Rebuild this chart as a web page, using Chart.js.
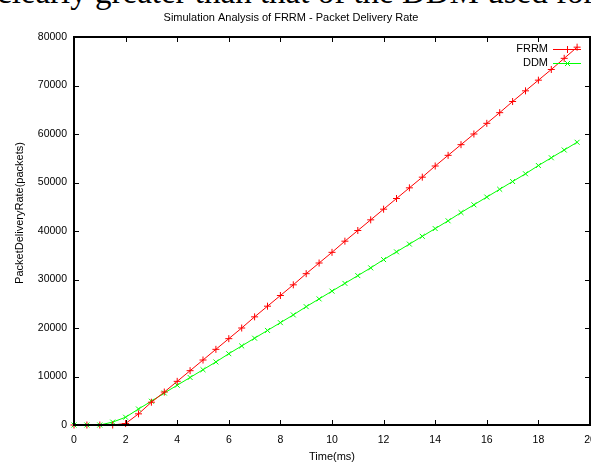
<!DOCTYPE html>
<html>
<head>
<meta charset="utf-8">
<script src="https://cdn.jsdelivr.net/npm/chart.js@4.4.1/dist/chart.umd.min.js"></script>
<style>
  html, body { margin: 0; padding: 0; background: #fff; overflow: hidden; }
  body { width: 591px; height: 464px; position: relative; }
  #pageText {
    position: absolute; left: -3px; top: -24px; white-space: nowrap;
    font-family: "Liberation Serif", serif; font-size: 33px; line-height: 33px; color: #000;
  }
  #wrap { position: absolute; left: 0; top: 0; width: 610px; height: 464px; }
</style>
</head>
<body>
<div id="pageText">clearly greater than that of the DDM used for</div>
<div id="wrap"><canvas id="pdr"></canvas></div>
<script>
const times = [0, 0.5, 1, 1.5, 2, 2.5, 3, 3.5, 4, 4.5, 5, 5.5, 6, 6.5, 7, 7.5, 8, 8.5, 9, 9.5,
    10, 10.5, 11, 11.5, 12, 12.5, 13, 13.5, 14, 14.5, 15, 15.5, 16, 16.5, 17, 17.5, 18, 18.5, 19, 19.5];

const frrm = [0, 0, 0, 0, 300, 2300, 4700, 6800, 9000, 11200, 13400, 15600, 17800, 20000, 22300, 24500,
    26700, 28900, 31200, 33400, 35600, 37900, 40100, 42300, 44500, 46700, 48900, 51100, 53400, 55600,
    57800, 60000, 62200, 64400, 66700, 68900, 71100, 73300, 75600, 77900];

const ddm = [0, 0, 0, 600, 1600, 3300, 4900, 6600, 8200, 9800, 11400, 13000, 14700, 16300, 17900, 19500,
    21100, 22700, 24400, 26000, 27600, 29200, 30800, 32400, 34100, 35700, 37300, 38900, 40500, 42100,
    43800, 45400, 47000, 48600, 50200, 51800, 53500, 55100, 56700, 58300];

const xTicks = [0, 2, 4, 6, 8, 10, 12, 14, 16, 18, 20];
const yTicks = [0, 10000, 20000, 30000, 40000, 50000, 60000, 70000, 80000];

const labelFont = '"Liberation Sans", Arial, sans-serif';

const toPoints = (vals) => vals.map((v, i) => ({ x: times[i], y: v }));

// gnuplot style frame, inward ticks, titles and legend
const gnuplotDecor = {
    id: 'gnuplotDecor',
    afterDatasetsDraw(chart) {
        const { ctx, chartArea: a, scales } = chart;
        ctx.save();
        ctx.strokeStyle = '#000';
        ctx.lineWidth = 1;
        ctx.beginPath();
        xTicks.forEach((t) => {
            const px = Math.round(scales.x.getPixelForValue(t)) + 0.5;
            ctx.moveTo(px, a.bottom); ctx.lineTo(px, a.bottom - 5);
            ctx.moveTo(px, a.top); ctx.lineTo(px, a.top + 5);
        });
        yTicks.forEach((t) => {
            const py = Math.round(scales.y.getPixelForValue(t)) + 0.5;
            ctx.moveTo(a.left, py); ctx.lineTo(a.left + 5, py);
            ctx.moveTo(a.right, py); ctx.lineTo(a.right - 5, py);
        });
        ctx.stroke();
        ctx.lineWidth = 2;
        ctx.strokeRect(a.left, a.top, a.right - a.left, a.bottom - a.top);

        ctx.fillStyle = '#000';
        ctx.font = '11px ' + labelFont;
        ctx.textAlign = 'center';
        ctx.textBaseline = 'middle';
        ctx.fillText('Simulation Analysis of FRRM - Packet Delivery Rate', 291, 18);
        ctx.fillText('Time(ms)', 332, 457);
        ctx.save();
        ctx.translate(20, 213);
        ctx.rotate(-Math.PI / 2);
        ctx.fillText('PacketDeliveryRate(packets)', 0, 0);
        ctx.restore();

        // legend
        const rows = [
            { text: 'FRRM', color: '#ff0000', plus: true, y: 49 },
            { text: 'DDM', color: '#00ff00', plus: false, y: 63 }
        ];
        rows.forEach((r) => {
            ctx.fillStyle = '#000';
            ctx.textAlign = 'right';
            ctx.fillText(r.text, 548, r.y);
            ctx.strokeStyle = r.color;
            ctx.lineWidth = 1;
            ctx.beginPath();
            ctx.moveTo(553, r.y + 0.5); ctx.lineTo(581, r.y + 0.5);
            const cx = 567.5, cy = r.y + 0.5, s = 3.5;
            if (r.plus) {
                ctx.moveTo(cx - s, cy); ctx.lineTo(cx + s, cy);
                ctx.moveTo(cx, cy - s); ctx.lineTo(cx, cy + s);
            } else {
                ctx.moveTo(cx - 2.5, cy - 2.5); ctx.lineTo(cx + 2.5, cy + 2.5);
                ctx.moveTo(cx - 2.5, cy + 2.5); ctx.lineTo(cx + 2.5, cy - 2.5);
            }
            ctx.stroke();
        });
        ctx.restore();
    }
};

new Chart(document.getElementById('pdr'), {
    type: 'line',
    data: {
        datasets: [
            {
                label: 'FRRM',
                data: toPoints(frrm),
                borderColor: '#ff0000',
                backgroundColor: '#ff0000',
                borderWidth: 1,
                pointStyle: 'cross',
                pointRadius: 3.5,
                pointBorderWidth: 1,
                tension: 0,
                clip: false
            },
            {
                label: 'DDM',
                data: toPoints(ddm),
                borderColor: '#00ff00',
                backgroundColor: '#00ff00',
                borderWidth: 1,
                pointStyle: 'crossRot',
                pointRadius: 3.5,
                pointBorderWidth: 1,
                tension: 0,
                clip: false
            }
        ]
    },
    options: {
        responsive: true,
        maintainAspectRatio: false,
        animation: false,
        layout: { padding: { top: 37, right: 20, left: 0, bottom: 0 } },
        plugins: { legend: { display: false }, tooltip: { enabled: false }, title: { display: false } },
        scales: {
            x: {
                type: 'linear',
                min: 0, max: 20,
                afterBuildTicks: (s) => { s.ticks = xTicks.map((v) => ({ value: v })); },
                afterFit: (s) => { s.height = 39; },
                grid: { display: false, drawTicks: false },
                border: { display: false },
                ticks: { color: '#000', padding: 9, maxRotation: 0, autoSkip: false, font: { family: labelFont, size: 10.5 } }
            },
            y: {
                min: 0, max: 80000,
                afterBuildTicks: (s) => { s.ticks = yTicks.map((v) => ({ value: v })); },
                afterFit: (s) => { s.width = 74; },
                grid: { display: false, drawTicks: false },
                border: { display: false },
                ticks: { color: '#000', padding: 7, autoSkip: false, font: { family: labelFont, size: 10.5 },
                    callback: (v) => String(v) }
            }
        }
    },
    plugins: [gnuplotDecor]
});
</script>
</body>
</html>
